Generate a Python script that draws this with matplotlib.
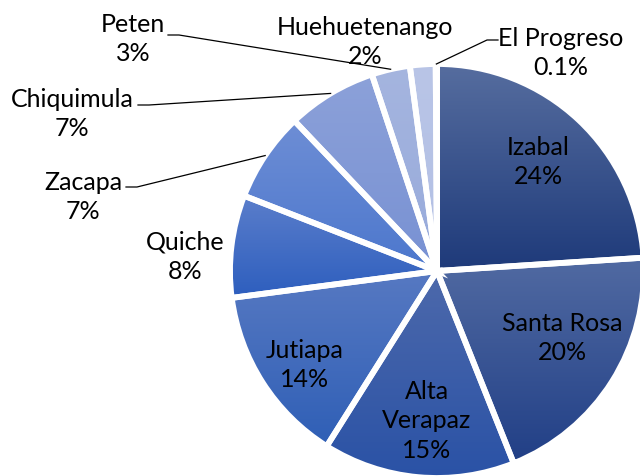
import numpy as np
import matplotlib.pyplot as plt
from matplotlib.colors import LinearSegmentedColormap

# data
regions = ['Izabal', 'Santa Rosa', 'Alta\nVerapaz', 'Jutiapa', 'Quiche',
           'Zacapa', 'Chiquimula', 'Peten', 'Huehuetenango', 'El Progreso']
shares = [24, 20, 15, 14, 8, 7, 7, 3, 2, 0.1]
pct_text = ['24%', '20%', '15%', '14%', '8%', '7%', '7%', '3%', '2%', '0.1%']

# gradient colours per slice (top, bottom)
top_cols = ['#566d9f', '#516aa2', '#4d69ab', '#5779c2', '#5b7ecb',
            '#6e8ed5', '#8ca1d9', '#a5b5df', '#b9c5e7', '#cfd8ef']
bot_cols = ['#1e3a7a', '#213f86', '#2a52a6', '#2f5fb6', '#2d5ebe',
            '#4c77cd', '#7891d3', '#97aadb', '#b2bfe4', '#c9d3ec']

# layout (image pixel coords, y down)
W, H = 640, 477
cx, cy, R = 437, 272, 207
label_xy = [(538, 162), (562, 338), (427, 421), (305, 365), (185, 257),
            (83, 197), (72, 114), (133, 39), (365, 42), (561, 53)]
# leader line start (None = no leader)
leader_start = [None, None, None, None, None,
                (126, 188), (138, 106), (168, 36), None, (498, 41)]
leader_dir = [0, 0, 0, 0, 0, 1, 1, 1, 0, -1]

fig = plt.figure(figsize=(6.4, 4.77), dpi=100)
ax = fig.add_axes([0, 0, 1, 1])

explode = [0.045] + [0] * (len(shares) - 1)
wedges, _ = ax.pie(shares, center=(cx, H - cy), radius=R, startangle=90,
                   counterclock=False, explode=explode, frame=True,
                   colors=bot_cols,
                   wedgeprops=dict(edgecolor='white', linewidth=4.2))

grad = np.linspace(0, 1, 256).reshape(-1, 1)
for w, c0, c1 in zip(wedges, bot_cols, top_cols):
    ext = w.get_path().get_extents()
    cmap = LinearSegmentedColormap.from_list('g', [c0, c1])
    img = ax.imshow(grad, cmap=cmap, aspect='auto', origin='lower',
                    extent=(ext.x0, ext.x1, ext.y0, ext.y1), zorder=2)
    img.set_clip_path(w)
    w.set_facecolor('none')
    w.set_zorder(3)
ax.set_xlim(0, W)
ax.set_ylim(0, H)
ax.axis('off')

font = ['Lato', 'DejaVu Sans']
for i, w in enumerate(wedges):
    lx, ly = label_xy[i]
    ax.text(lx, H - ly, regions[i] + '\n' + pct_text[i], ha='center',
            va='center', fontsize=18, family=font, linespacing=1.32,
            color='black', zorder=5)
    if leader_start[i] is not None:
        mid = np.deg2rad((w.theta1 + w.theta2) / 2)
        ex = w.center[0] + R * np.cos(mid)
        ey = w.center[1] + R * np.sin(mid)
        sx, sy = leader_start[i]
        kx = sx + 11 * leader_dir[i]
        ax.plot([sx, kx, ex], [H - sy, H - sy, ey], color='black',
                lw=0.9, zorder=4)

fig.savefig('out.png', dpi=100)
